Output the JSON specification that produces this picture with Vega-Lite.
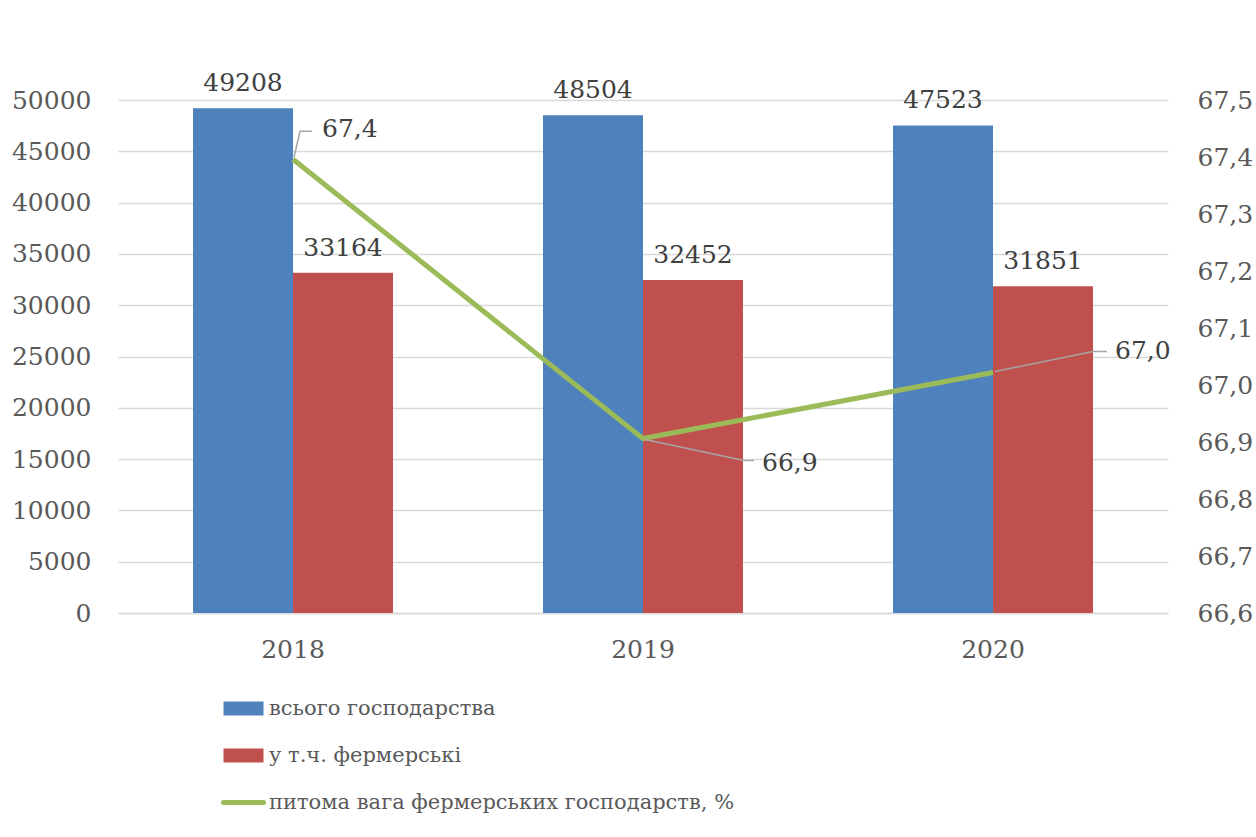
{
  "$schema": "https://vega.github.io/schema/vega-lite/v6.json",
  "width": 1050,
  "height": 513,
  "autosize": "none",
  "padding": {"left": 118, "top": 100, "right": 88, "bottom": 224},
  "background": "white",
  "config": {
    "font": "DejaVu Serif",
    "view": {"stroke": null},
    "locale": {"number": {"decimal": ",", "thousands": "", "grouping": [3], "currency": ["", ""]}},
    "axis": {"labelFont": "DejaVu Serif", "labelColor": "#595959", "labelFontSize": 25, "ticks": false, "domain": false, "title": null, "gridColor": "#d9d9d9", "gridWidth": 1.5},
    "legend": {"labelFont": "DejaVu Serif"}
  },
  "datasets": {
    "bars": [
      {"year": "2018", "series": "всього господарства", "value": 49208},
      {"year": "2018", "series": "у т.ч. фермерські", "value": 33164},
      {"year": "2019", "series": "всього господарства", "value": 48504},
      {"year": "2019", "series": "у т.ч. фермерські", "value": 32452},
      {"year": "2020", "series": "всього господарства", "value": 47523},
      {"year": "2020", "series": "у т.ч. фермерські", "value": 31851}
    ],
    "share": [
      {"year": "2018", "share": 67.396},
      {"year": "2019", "share": 66.906},
      {"year": "2020", "share": 67.022}
    ]
  },
  "encoding": {
    "x": {
      "field": "year", "type": "nominal",
      "scale": {"paddingInner": 0.4286, "paddingOuter": 0.2143},
      "axis": {"labelAngle": 0, "labelPadding": 24, "grid": false, "domain": true, "domainColor": "#d9d9d9", "domainWidth": 1.5}
    }
  },
  "layer": [
    {
      "data": {"name": "bars"},
      "encoding": {
        "y": {
          "field": "value", "type": "quantitative",
          "scale": {"domain": [0, 50000], "nice": false},
          "axis": {"values": [0, 5000, 10000, 15000, 20000, 25000, 30000, 35000, 40000, 45000, 50000], "format": "d", "labelPadding": 27, "grid": true, "orient": "left"}
        },
        "xOffset": {"field": "series", "type": "nominal", "scale": {"domain": ["всього господарства", "у т.ч. фермерські"], "paddingInner": 0, "paddingOuter": 0}}
      },
      "layer": [
        {
          "mark": {"type": "bar"},
          "encoding": {
            "color": {
              "field": "series", "type": "nominal",
              "scale": {"domain": ["всього господарства", "у т.ч. фермерські", "питома вага фермерських господарств, %"], "range": ["#4F81BD", "#C0504D", "#9BBB59"]},
              "legend": {
                "title": null, "orient": "none", "legendX": 115, "legendY": 598, "direction": "vertical",
                "labelFont": "DejaVu Serif", "labelFontSize": 21, "labelColor": "#595959", "labelOffset": 15,
                "symbolSize": 1600, "rowPadding": 25, "padding": 0, "labelLimit": 800,
                "encode": {
                  "symbols": {
                    "update": {
                      "shape": {"signal": "datum.index === 2 ? 'stroke' : 'M-1,-0.35L1,-0.35L1,0.35L-1,0.35Z'"},
                      "fill": {"signal": "datum.index === 2 ? 'transparent' : scale('color', datum.value)"},
                      "stroke": {"signal": "scale('color', datum.value)"},
                      "strokeWidth": {"signal": "datum.index === 2 ? 5 : 0"},
                      "strokeCap": {"value": "round"},
                      "size": {"value": 1600},
                      "opacity": {"value": 1}
                    }
                  }
                }
              }
            }
          }
        },
        {
          "mark": {"type": "text", "baseline": "alphabetic", "dy": -17, "fontSize": 25, "color": "#404040", "font": "DejaVu Serif"},
          "encoding": {"text": {"field": "value", "type": "quantitative", "format": "d"}}
        }
      ]
    },
    {
      "data": {"name": "share"},
      "encoding": {
        "y": {
          "field": "share", "type": "quantitative",
          "scale": {"domain": [66.6, 67.5], "nice": false, "zero": false},
          "axis": {"values": [66.6, 66.7, 66.8, 66.9, 67.0, 67.1, 67.2, 67.3, 67.4, 67.5], "format": ".1f", "labelPadding": 29, "grid": false, "orient": "right"}
        }
      },
      "layer": [
        {
          "mark": {"type": "line", "strokeWidth": 5},
          "encoding": {"color": {"datum": "питома вага фермерських господарств, %"}}
        },
        {
          "mark": {"type": "point", "filled": false, "size": 4, "stroke": "#a6a6a6", "strokeWidth": 1.5, "opacity": 1},
          "encoding": {
            "shape": {
              "field": "year", "type": "nominal", "legend": null,
              "scale": {"domain": ["2018", "2019", "2020"], "range": ["M1,-2L7,-28L19,-28", "M2,1L101,22L111,22", "M2,-1L100,-21L114,-21"]}
            }
          }
        },
        {
          "mark": {
            "type": "text", "align": "left", "baseline": "middle", "fontSize": 25, "color": "#404040", "font": "DejaVu Serif",
            "dx": {"expr": "datum.year === '2018' ? 29 : datum.year === '2019' ? 119 : 122"},
            "dy": {"expr": "datum.year === '2018' ? -30 : datum.year === '2019' ? 24 : -21"}
          },
          "encoding": {"text": {"field": "share", "type": "quantitative", "format": ".1f"}}
        }
      ]
    }
  ],
  "resolve": {"scale": {"y": "independent"}}
}
